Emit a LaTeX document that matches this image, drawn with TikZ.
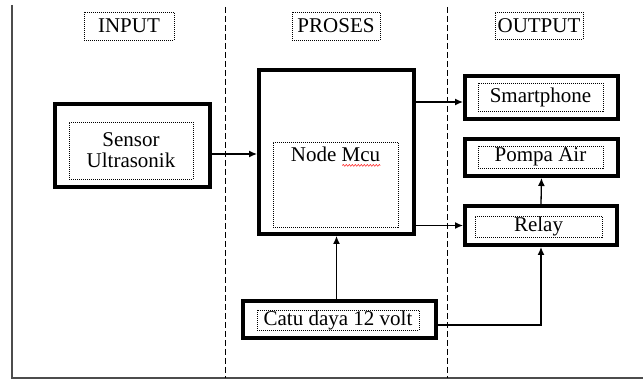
\documentclass[tikz,border=0pt]{standalone}
\usepackage{fontspec}
\setmainfont{Liberation Serif}
\usetikzlibrary{positioning, arrows.meta, calc, decorations.pathmorphing}

\tikzset{
  block/.style={draw, line width=4pt, inner sep=0pt},
  txtbox/.style={draw, line width=0.8pt, dash pattern=on 1pt off 1pt,
    inner sep=0pt, align=center},
  divider/.style={line width=1pt, dash pattern=on 6pt off 3pt},
  link/.style={-{Latex[length=8pt, width=7pt]}, line width=1.3pt}
}

\begin{document}
\begin{tikzpicture}[x=1pt, y=-1pt,
    every node/.style={font=\fontsize{21}{21}\selectfont}]
  \useasboundingbox (0,0) rectangle (643,379);

  % frame and column dividers
  \draw[black!70, line width=2pt] (12,5) -- (12,378) -- (643,378);
  \draw[divider] (225,7) -- (225,378);
  \draw[divider] (447,7) -- (447,378);

  % column titles
  \node[txtbox, minimum width=90pt, minimum height=28pt] (input) at (129,26) {INPUT};
  \node[txtbox, minimum width=88pt, minimum height=28pt] (proses) at (336,26) {PROSES};
  \node[txtbox, minimum width=88pt, minimum height=27pt] (output) at (539,26) {OUTPUT};

  % input
  \node[block, minimum width=155pt, minimum height=83pt] (sensor) at (132.5,145.5) {};
  \node[txtbox, minimum width=124pt, minimum height=57pt] (sensorTxt) at (131,150.5)
    {Sensor\\Ultrasonik};

  % proses
  \node[block, minimum width=155pt, minimum height=164pt] (mcu) at (336.5,152) {};
  \node[txtbox, minimum width=125pt, minimum height=85pt] (mcuTxt) at (335.5,184.5) {};
  \node[inner sep=0pt, below=5pt of mcuTxt.north] (mcuLbl) {Node Mcu};
  \draw[red, line width=0.5pt, decorate,
    decoration={snake, amplitude=0.8pt, segment length=3pt}]
    ([xshift=-38pt, yshift=-4pt]mcuLbl.base east) -- ([yshift=-4pt]mcuLbl.base east);

  \node[block, minimum width=193pt, minimum height=37pt] (catu) at (339.5,319.5) {};
  \node[txtbox, minimum width=162pt, minimum height=20pt] (catuTxt) at (338,320)
    {Catu daya 12 volt};

  % output
  \node[block, minimum width=153pt, minimum height=43pt] (phone) at (541.5,97.5) {};
  \node[txtbox, minimum width=125pt, minimum height=28pt] (phoneTxt) at (540.5,97)
    {Smartphone};
  \node[block, minimum width=153pt, minimum height=37pt] (pompa) at (541.5,157.5) {};
  \node[txtbox, minimum width=125pt, minimum height=22pt] (pompaTxt) at (540.5,157)
    {Pompa Air};
  \node[block, minimum width=152pt, minimum height=39pt] (relay) at (541,225.5) {};
  \node[txtbox, minimum width=127pt, minimum height=21pt] (relayTxt) at (538.5,226.5)
    {Relay};

  % connections
  \draw[link] ([yshift=-2pt]sensor.east |- mcu.west) -- ([yshift=-2pt]mcu.west);
  \draw[link] ([yshift=-4.5pt]mcu.east |- phone.west) -- ([yshift=-4.5pt]phone.west);
  \draw[link] (mcu.east |- relay.west) -- (relay.west);
  \draw[link] (relay.north) -- (pompa.south);
  \draw[link] (mcu.south |- catu.north) -- (mcu.south);
  \draw[link] ([yshift=-5.5pt]catu.east) -| (relay.south);
\end{tikzpicture}
\end{document}
